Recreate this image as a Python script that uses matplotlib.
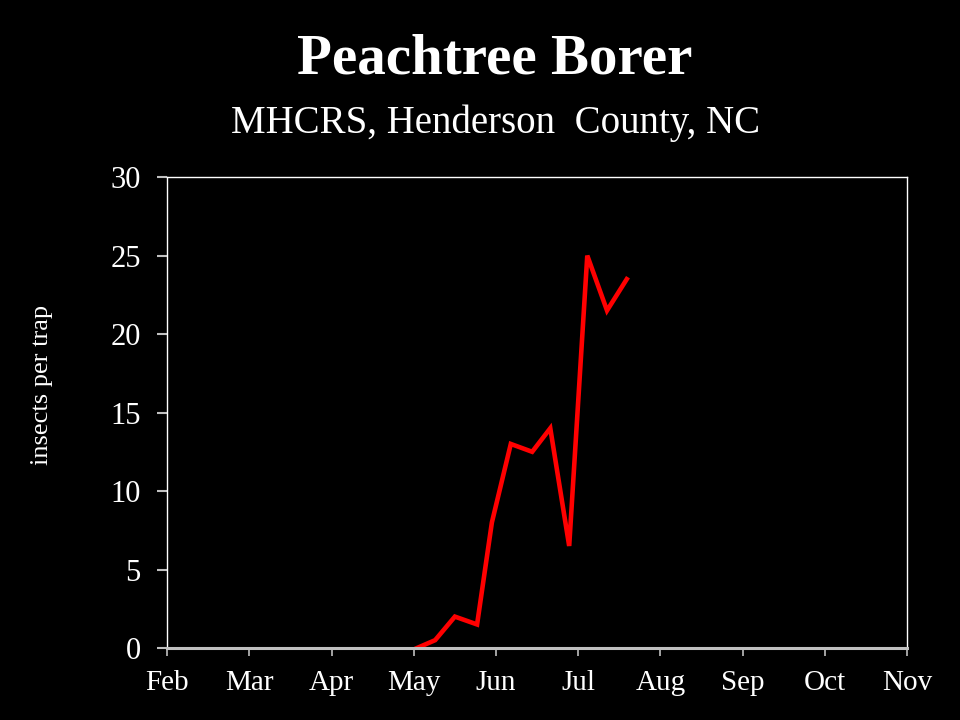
import matplotlib.pyplot as plt

# month labels on the x axis (equally spaced)
months = ['Feb', 'Mar', 'Apr', 'May', 'Jun', 'Jul', 'Aug', 'Sep', 'Oct', 'Nov']

# sampling dates as month position (0 = Feb 1) and trap counts
month_pos = [3.04, 3.26, 3.50, 3.77, 3.95, 4.18, 4.44, 4.66, 4.89, 5.11, 5.35, 5.59]
insects = [0, 0.5, 2.0, 1.5, 8.0, 13.0, 12.5, 14.0, 6.5, 25.0, 21.5, 23.5]

yticks = [0, 5, 10, 15, 20, 25, 30]

plt.rcParams['font.family'] = ['Liberation Serif', 'DejaVu Serif']

fig = plt.figure(figsize=(9.6, 7.2), dpi=100, facecolor='black')
ax = fig.add_axes([0.174, 0.1, 0.771, 0.654], facecolor='black')

ax.plot(month_pos, insects, color='#ff0000', linewidth=3.3, solid_joinstyle='miter')

ax.set_xlim(0, len(months) - 1)
ax.set_ylim(0, 30)
ax.set_xticks(range(len(months)))
ax.set_xticklabels(months)
ax.set_yticks(yticks)

for side in ['top', 'right', 'left']:
    ax.spines[side].set_color('white')
    ax.spines[side].set_linewidth(1.0)
ax.spines['bottom'].set_color('#c0c0c0')
ax.spines['bottom'].set_linewidth(2.2)

ax.tick_params(axis='x', colors='#c0c0c0', direction='out', length=6, width=1.2,
               labelcolor='white', labelsize=21, pad=10)
ax.tick_params(axis='y', colors='#c0c0c0', direction='out', length=7, width=1.5,
               labelcolor='white', labelsize=22, pad=12)

# y label placed by hand, it sits a bit above the axes centre
fig.text(0.044, 0.465, 'insects per trap', color='white', fontsize=19,
         rotation=90, ha='center', va='center')

fig.text(0.515, 0.918, 'Peachtree Borer', color='white', fontsize=41,
         fontweight='bold', ha='center', va='center')
fig.text(0.516, 0.829, 'MHCRS, Henderson  County, NC', color='white', fontsize=28,
         ha='center', va='center')

plt.savefig('out.png', dpi=100, facecolor='black')
